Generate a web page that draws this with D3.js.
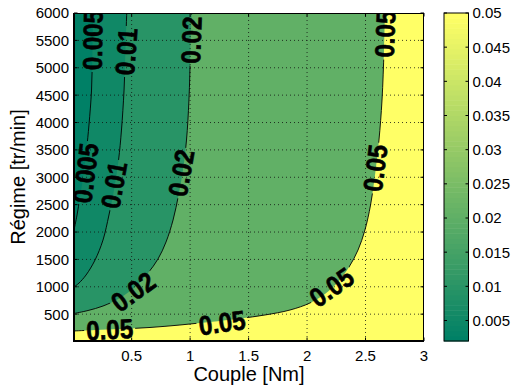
<!DOCTYPE html>
<html><head><meta charset="utf-8">
<script src="https://cdn.jsdelivr.net/npm/d3@7"></script>
<style>body{margin:0;background:#fff}svg{display:block}text{font-family:"Liberation Sans",Arial,Helvetica,sans-serif}</style>
</head><body>
<svg id="chart" width="513" height="387"></svg>
<script>
// ---- data ----
const xDomain = [0.007, 3];
const yDomain = [10, 6000];
const xTicks = [0.5, 1, 1.5, 2, 2.5, 3];
const yTicks = [500, 1000, 1500, 2000, 2500, 3000, 3500, 4000, 4500, 5000, 5500, 6000];
const levels = [0.005, 0.01, 0.02, 0.05];
const cRange = [0.002, 0.05];
const cbTicks = [0.005, 0.01, 0.015, 0.02, 0.025, 0.03, 0.035, 0.04, 0.045, 0.05];

// contour line for each level: [couple, régime]
const contour005 = [[0.171,6000],[0.165,5324],[0.157,4593],[0.135,3954],[0.114,3498],[0.088,3041],[0.058,2639],[0.033,2311],[0.007,2037]];
const contour01 = [[0.458,6000],[0.447,5324],[0.435,4593],[0.413,3863],[0.388,3315],[0.349,2767],[0.306,2311],[0.255,1854],[0.187,1489],[0.110,1215],[0.050,1069],[0.007,996]];
const contour02 = [[1.013,6000],[1.003,5324],[0.990,4411],[0.969,3680],[0.939,3132],[0.901,2676],[0.854,2219],[0.794,1818],[0.725,1507],[0.640,1252],[0.529,996],[0.400,795],[0.255,649],[0.127,567],[0.007,512]];
const contour05 = [[2.666,6000],[2.658,5324],[2.641,4411],[2.615,3680],[2.581,3041],[2.543,2493],[2.495,2037],[2.436,1672],[2.359,1361],[2.265,1087],[2.153,868],[2.025,704],[1.854,576],[1.640,485],[1.427,421],[1.170,357],[0.913,302],[0.657,257],[0.400,229],[0.187,211],[0.007,193]];
const contourLines = [contour005, contour01, contour02, contour05];

// inline labels
const labelText  = ["0.005","0.01","0.02","0.05","0.005","0.01","0.02","0.02","0.05","0.05","0.05","0.05"];
const labelX     = [0.165, 0.452, 1.008, 2.666, 0.104, 0.347, 0.922, 0.512, 2.581, 2.209, 1.273, 0.312];
const labelY     = [5506, 5296, 5506, 5616, 3078, 2859, 3078, 914, 3169, 996, 348, 224];
const labelAngle = [-89, -86, -88, -88, -83, -80, -80, -36, -83, -35, -8, -3];

// ---- layout ----
const L = 74, R = 424, T = 13, B = 341;
const cbL = 444, cbR = 468.5;
const svg = d3.select("#chart");
const x = d3.scaleLinear().domain(xDomain).range([L, R]);
const y = d3.scaleLinear().domain(yDomain).range([B, T]);
const cy = d3.scaleLinear().domain(cRange).range([B, T]);

// MATLAB "summer" colormap, 64 entries
const M = 64;
const cmap = d3.range(M).map(i => d3.rgb(255 * i / (M - 1), 255 * (0.5 + 0.5 * i / (M - 1)), 0.4 * 255).formatHex());
function colorOf(v) {
  let idx = Math.floor((v - cRange[0]) / (cRange[1] - cRange[0]) * M);
  idx = Math.max(0, Math.min(M - 1, idx));
  return cmap[idx];
}

const defs = svg.append("defs");
defs.append("clipPath").attr("id", "plotclip").append("rect")
  .attr("x", L).attr("y", T).attr("width", R - L).attr("height", B - T);

// mask to break lines under labels
const mask = defs.append("mask").attr("id", "lblmask").attr("maskUnits", "userSpaceOnUse")
  .attr("x", 0).attr("y", 0).attr("width", 513).attr("height", 387);
mask.append("rect").attr("x", 0).attr("y", 0).attr("width", 513).attr("height", 387).attr("fill", "#fff");

const plot = svg.append("g").attr("clip-path", "url(#plotclip)");

// base fill (below lowest level)
plot.append("rect").attr("x", L).attr("y", T).attr("width", R - L).attr("height", B - T)
  .attr("fill", colorOf(cRange[0]));

const line = d3.line().x(d => x(d[0])).y(d => y(d[1])).curve(d3.curveCatmullRom.alpha(0.5));
contourLines.forEach((pts, i) => {
  const p = line(pts) + `L${x(xDomain[0])},${y(yDomain[0])}L${x(xDomain[1])},${y(yDomain[0])}L${x(xDomain[1])},${y(yDomain[1])}Z`;
  plot.append("path").attr("d", p).attr("fill", colorOf(levels[i])).attr("stroke", "none");
});

// grid (dotted)
const grid = plot.append("g").attr("stroke", "#111").attr("stroke-width", 1).attr("stroke-dasharray", "1,3").attr("opacity", 0.8);
xTicks.filter(t => t < xDomain[1]).forEach(t => grid.append("line").attr("x1", x(t)).attr("x2", x(t)).attr("y1", B).attr("y2", T));
yTicks.filter(t => t < yDomain[1]).forEach(t => grid.append("line").attr("y1", y(t)).attr("y2", y(t)).attr("x1", L).attr("x2", R));

// label geometry
function textLen(s) { return s.length === 5 ? 60 : 47; }
labelText.forEach((s, i) => {
  mask.append("rect")
    .attr("x", -textLen(s) / 2 - 2).attr("y", -11).attr("width", textLen(s) + 4).attr("height", 22)
    .attr("fill", "#000")
    .attr("transform", `translate(${x(labelX[i])},${y(labelY[i])}) rotate(${labelAngle[i]})`);
});

// contour lines
const lines = plot.append("g").attr("mask", "url(#lblmask)");
contourLines.forEach(pts => {
  lines.append("path").attr("d", line(pts)).attr("fill", "none").attr("stroke", "#000").attr("stroke-width", 0.9);
});

// labels
labelText.forEach((s, i) => {
  plot.append("text")
    .attr("transform", `translate(${x(labelX[i])},${y(labelY[i])}) rotate(${labelAngle[i]})`)
    .attr("text-anchor", "middle").attr("dy", "0.36em")
    .attr("font-size", 27).attr("font-weight", "bold")
    .attr("textLength", textLen(s)).attr("lengthAdjust", "spacingAndGlyphs")
    .attr("fill", "#000").attr("stroke", "#000").attr("stroke-width", 0.6).text(s);
});

// axes box
const ax = svg.append("g").attr("stroke", "#000").attr("fill", "none");
ax.append("line").attr("x1", L).attr("x2", R).attr("y1", T + 0.5).attr("y2", T + 0.5).attr("stroke-width", 1);
ax.append("line").attr("x1", R - 0.5).attr("x2", R - 0.5).attr("y1", T).attr("y2", B).attr("stroke-width", 1);
ax.append("line").attr("x1", L - 1).attr("x2", R).attr("y1", B).attr("y2", B).attr("stroke-width", 2);
ax.append("line").attr("x1", L).attr("x2", L).attr("y1", T).attr("y2", B + 1).attr("stroke-width", 2);
const tl = 3.5;
xTicks.forEach(t => {
  ax.append("line").attr("x1", x(t)).attr("x2", x(t)).attr("y1", B).attr("y2", B - tl);
  ax.append("line").attr("x1", x(t)).attr("x2", x(t)).attr("y1", T).attr("y2", T + tl);
});
yTicks.forEach(t => {
  ax.append("line").attr("y1", y(t)).attr("y2", y(t)).attr("x1", L).attr("x2", L + tl);
  ax.append("line").attr("y1", y(t)).attr("y2", y(t)).attr("x1", R).attr("x2", R - tl);
});

// tick labels
const tickFont = 15;
xTicks.forEach(t => svg.append("text").attr("x", x(t)).attr("y", 361).attr("text-anchor", "middle")
  .attr("font-size", tickFont).attr("fill", "#000").text(d3.format("~g")(t)));
yTicks.forEach(t => svg.append("text").attr("x", 69).attr("y", y(t)).attr("dy", "0.36em").attr("text-anchor", "end")
  .attr("font-size", tickFont).attr("fill", "#000").text(t));

// axis titles
svg.append("text").attr("x", (L + R) / 2).attr("y", 381).attr("text-anchor", "middle")
  .attr("font-size", 20).attr("fill", "#000").text("Couple [Nm]");
svg.append("text").attr("transform", `translate(25,${(T + B) / 2}) rotate(-90)`).attr("text-anchor", "middle")
  .attr("font-size", 20).attr("fill", "#000").text("Régime [tr/min]");

// colorbar
const cb = svg.append("g");
cmap.forEach((c, i) => {
  const v0 = cRange[0] + (cRange[1] - cRange[0]) * i / M;
  const v1 = cRange[0] + (cRange[1] - cRange[0]) * (i + 1) / M;
  cb.append("rect").attr("x", cbL).attr("width", cbR - cbL)
    .attr("y", cy(v1)).attr("height", cy(v0) - cy(v1) + 0.5).attr("fill", c);
});
cb.append("rect").attr("x", cbL).attr("y", T).attr("width", cbR - cbL).attr("height", B - T)
  .attr("fill", "none").attr("stroke", "#000").attr("stroke-width", 1);
cbTicks.forEach(t => {
  cb.append("line").attr("x1", cbL).attr("x2", cbL + 3).attr("y1", cy(t)).attr("y2", cy(t)).attr("stroke", "#000");
  cb.append("line").attr("x1", cbR).attr("x2", cbR - 3).attr("y1", cy(t)).attr("y2", cy(t)).attr("stroke", "#000");
  cb.append("text").attr("x", 472.5).attr("y", cy(t)).attr("dy", "0.36em").attr("font-size", tickFont)
    .attr("fill", "#000").text(d3.format("~g")(t));
});
</script>
</body></html>
